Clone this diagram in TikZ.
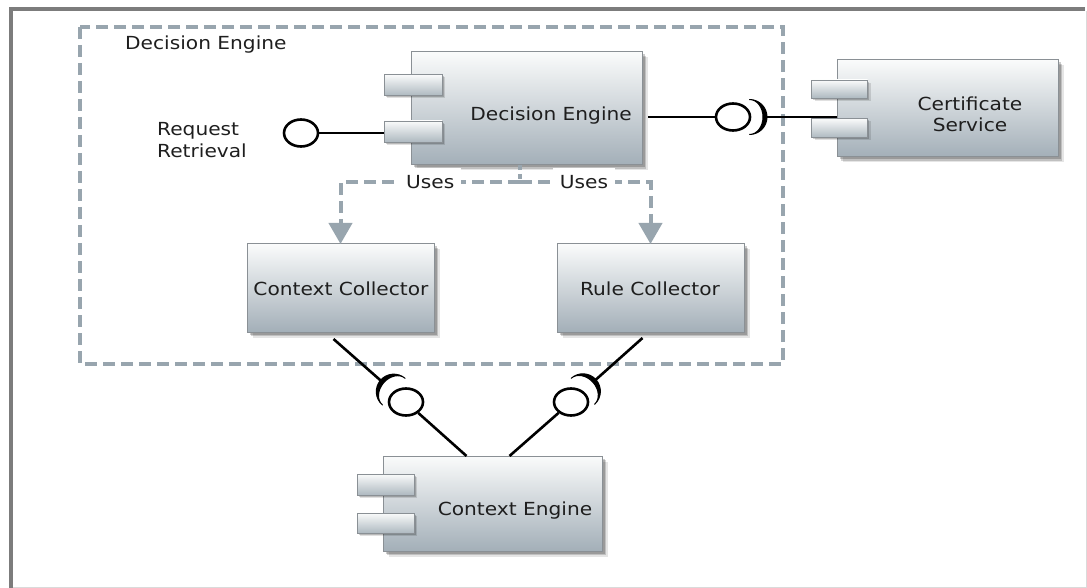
\documentclass[tikz,border=0pt]{standalone}
\usepackage{fontspec}
\setmainfont{DejaVu Sans}[FakeStretch=1.12]
\usetikzlibrary{shapes.geometric,shadows,arrows.meta,calc}

\definecolor{framegray}{HTML}{7C7C7C}
\definecolor{framelight}{HTML}{DADADA}
\definecolor{pkg}{HTML}{98A5AE}
\definecolor{boxline}{HTML}{8A9095}
\definecolor{boxtop}{HTML}{FAFBFB}
\definecolor{boxbot}{HTML}{A3AFB8}
\definecolor{portbot}{HTML}{AEB9C0}
\definecolor{textgray}{HTML}{1E1E1E}

\tikzset{
  soft shadow/.style={
    drop shadow={shadow xshift=5.5pt, shadow yshift=-5.5pt, fill=black, opacity=0.10},
    drop shadow={shadow xshift=4pt, shadow yshift=-4pt, fill=black, opacity=0.16},
    drop shadow={shadow xshift=2.5pt, shadow yshift=-2.5pt, fill=black, opacity=0.20}},
  small shadow/.style={
    drop shadow={shadow xshift=3pt, shadow yshift=-3pt, fill=black, opacity=0.12},
    drop shadow={shadow xshift=1.8pt, shadow yshift=-1.8pt, fill=black, opacity=0.18}},
  comp/.style={draw=boxline, line width=1pt, top color=boxtop, bottom color=boxbot,
    inner sep=0pt, outer sep=0pt, soft shadow},
  port/.style={draw=boxline, line width=0.8pt, top color=boxtop, bottom color=portbot,
    minimum width=58pt, minimum height=21pt, inner sep=0pt, outer sep=0pt, small shadow},
  txt/.style={inner sep=0pt, text=textgray, font=\fontsize{18}{21.5}\selectfont},
  lbl/.style={txt, fill=white, inner xsep=7pt, inner ysep=8pt},
  wire/.style={draw=black, line width=2.6pt},
  ball/.style={ellipse, draw=black, line width=2.6pt, fill=white,
    minimum width=34pt, minimum height=27pt, inner sep=0pt},
  socketfill/.style={fill=black, draw=black, line width=1pt, line join=round},
  uses/.style={draw=pkg, line width=4pt, dash pattern=on 12pt off 6pt,
    -{Triangle[width=23pt,length=21pt]}},
  pkgbox/.style={draw=pkg, line width=3.4pt, dash pattern=on 12pt off 6pt}
}

% crescent of a required interface: centre, facing angle
\newcommand\socketcup[2]{%
  \begin{scope}[shift={#1}, rotate=#2]
    \path[socketfill] (0pt,17.5pt) arc[start angle=90, end angle=-90, radius=17.5pt]
      arc[start angle=-90, end angle=90, x radius=13.5pt, y radius=17.5pt] -- cycle;
  \end{scope}}

\begin{document}
\begin{tikzpicture}[x=1pt, y=-1pt]
  \useasboundingbox (0,0) rectangle (1087,588);

  % outer frame
  \draw[framegray, line width=4pt] (10.5,588) |- (1085,9);
  \draw[framelight, line width=1pt] (13,587.3) -- (1086.3,587.3) -- (1086.3,11);

  % package boundary
  \draw[pkgbox] (80,27) rectangle (783,364);
  \node[txt, anchor=base west] (pkglabel) at (125,50) {Decision Engine};

  % components
  \node[comp, minimum width=231pt, minimum height=113pt] (de) at (526.5,108.5) {};
  \node[port] (dep1) at (413,85) {};
  \node[port] (dep2) at (413,131.5) {};
  \node[txt, anchor=base east] (delabel) at (632,120.5) {Decision Engine};

  \node[comp, minimum width=221pt, minimum height=97pt] (cs) at (947.5,108.5) {};
  \node[port, minimum width=56pt, minimum height=18pt] (csp1) at (839.5,89) {};
  \node[port, minimum width=56pt, minimum height=19pt] (csp2) at (839.5,128) {};
  \node[txt, align=center] (cslabel) at (970,114.5) {Certificate\\Service};

  \node[comp, minimum width=187pt, minimum height=88pt] (cc) at (340.5,288) {};
  \node[txt, anchor=base] (cclabel) at (341,295) {Context Collector};

  \node[comp, minimum width=187pt, minimum height=88pt] (rc) at (650.5,288) {};
  \node[txt, anchor=base] (rclabel) at (650,295) {Rule Collector};

  \node[comp, minimum width=219pt, minimum height=95pt] (ce) at (492.5,503.5) {};
  \node[port, minimum width=57pt, minimum height=21pt] (cep1) at (385.5,484.5) {};
  \node[port, minimum width=57pt, minimum height=20pt] (cep2) at (385.5,523) {};
  \node[txt, anchor=base] (celabel) at (515,515) {Context Engine};

  % provided interface: Request Retrieval
  \node[txt, align=left, anchor=west] (rrlabel) at (157,140) {Request\\Retrieval};
  \node[ball] (rrball) at (301,133) {};
  \draw[wire] (rrball.east) -- (dep2.west |- rrball.east);

  % Decision Engine -> Certificate Service
  \node[ball] (deball) at (733,117) {};
  \coordinate (desc) at ($(deball.center)+(0:16.5pt)$);
  \coordinate (detip) at ($(deball.center)+(0:34pt)$);
  \draw[wire] ($(de.east |- deball)+(6,0)$) -- (deball);
  \socketcup{(desc)}{0}
  \draw[wire] (detip) -- (cs.west |- detip);

  % collectors -> Context Engine
  \node[ball] (lball) at (406,402) {};
  \coordinate (lsc) at ($(lball.center)+(139.7:16pt)$);
  \coordinate (ltip) at ($(lball.center)+(139.7:33pt)$);
  \coordinate (ccout) at ($(cc.south)+(-7,7)$);
  \socketcup{(lsc)}{139.7}
  \draw[wire] (ccout) -- (ltip);
  \draw[wire] (lball) -- ($(ce.north)+(-26,0)$);

  \node[ball] (rball) at (571,402) {};
  \coordinate (rsc) at ($(rball.center)+(42:16pt)$);
  \coordinate (rtip) at ($(rball.center)+(42:33pt)$);
  \coordinate (rcout) at ($(rc.south)+(-8,6)$);
  \socketcup{(rsc)}{42}
  \draw[wire] (rcout) -- (rtip);
  \draw[wire] (rball) -- ($(ce.north)+(17,0)$);

  % dependencies
  \coordinate (j) at (520,182.5);
  \draw[draw=pkg, line width=4pt, dash pattern=on 5pt off 4pt] (de.south -| j) -- (j);
  \draw[uses] (j) -| node[lbl, pos=0.25] (uses1) {Uses} (cc.north);
  \draw[uses] (j) -| node[lbl, pos=0.245] (uses2) {Uses} (rc.north);
\end{tikzpicture}
\end{document}
